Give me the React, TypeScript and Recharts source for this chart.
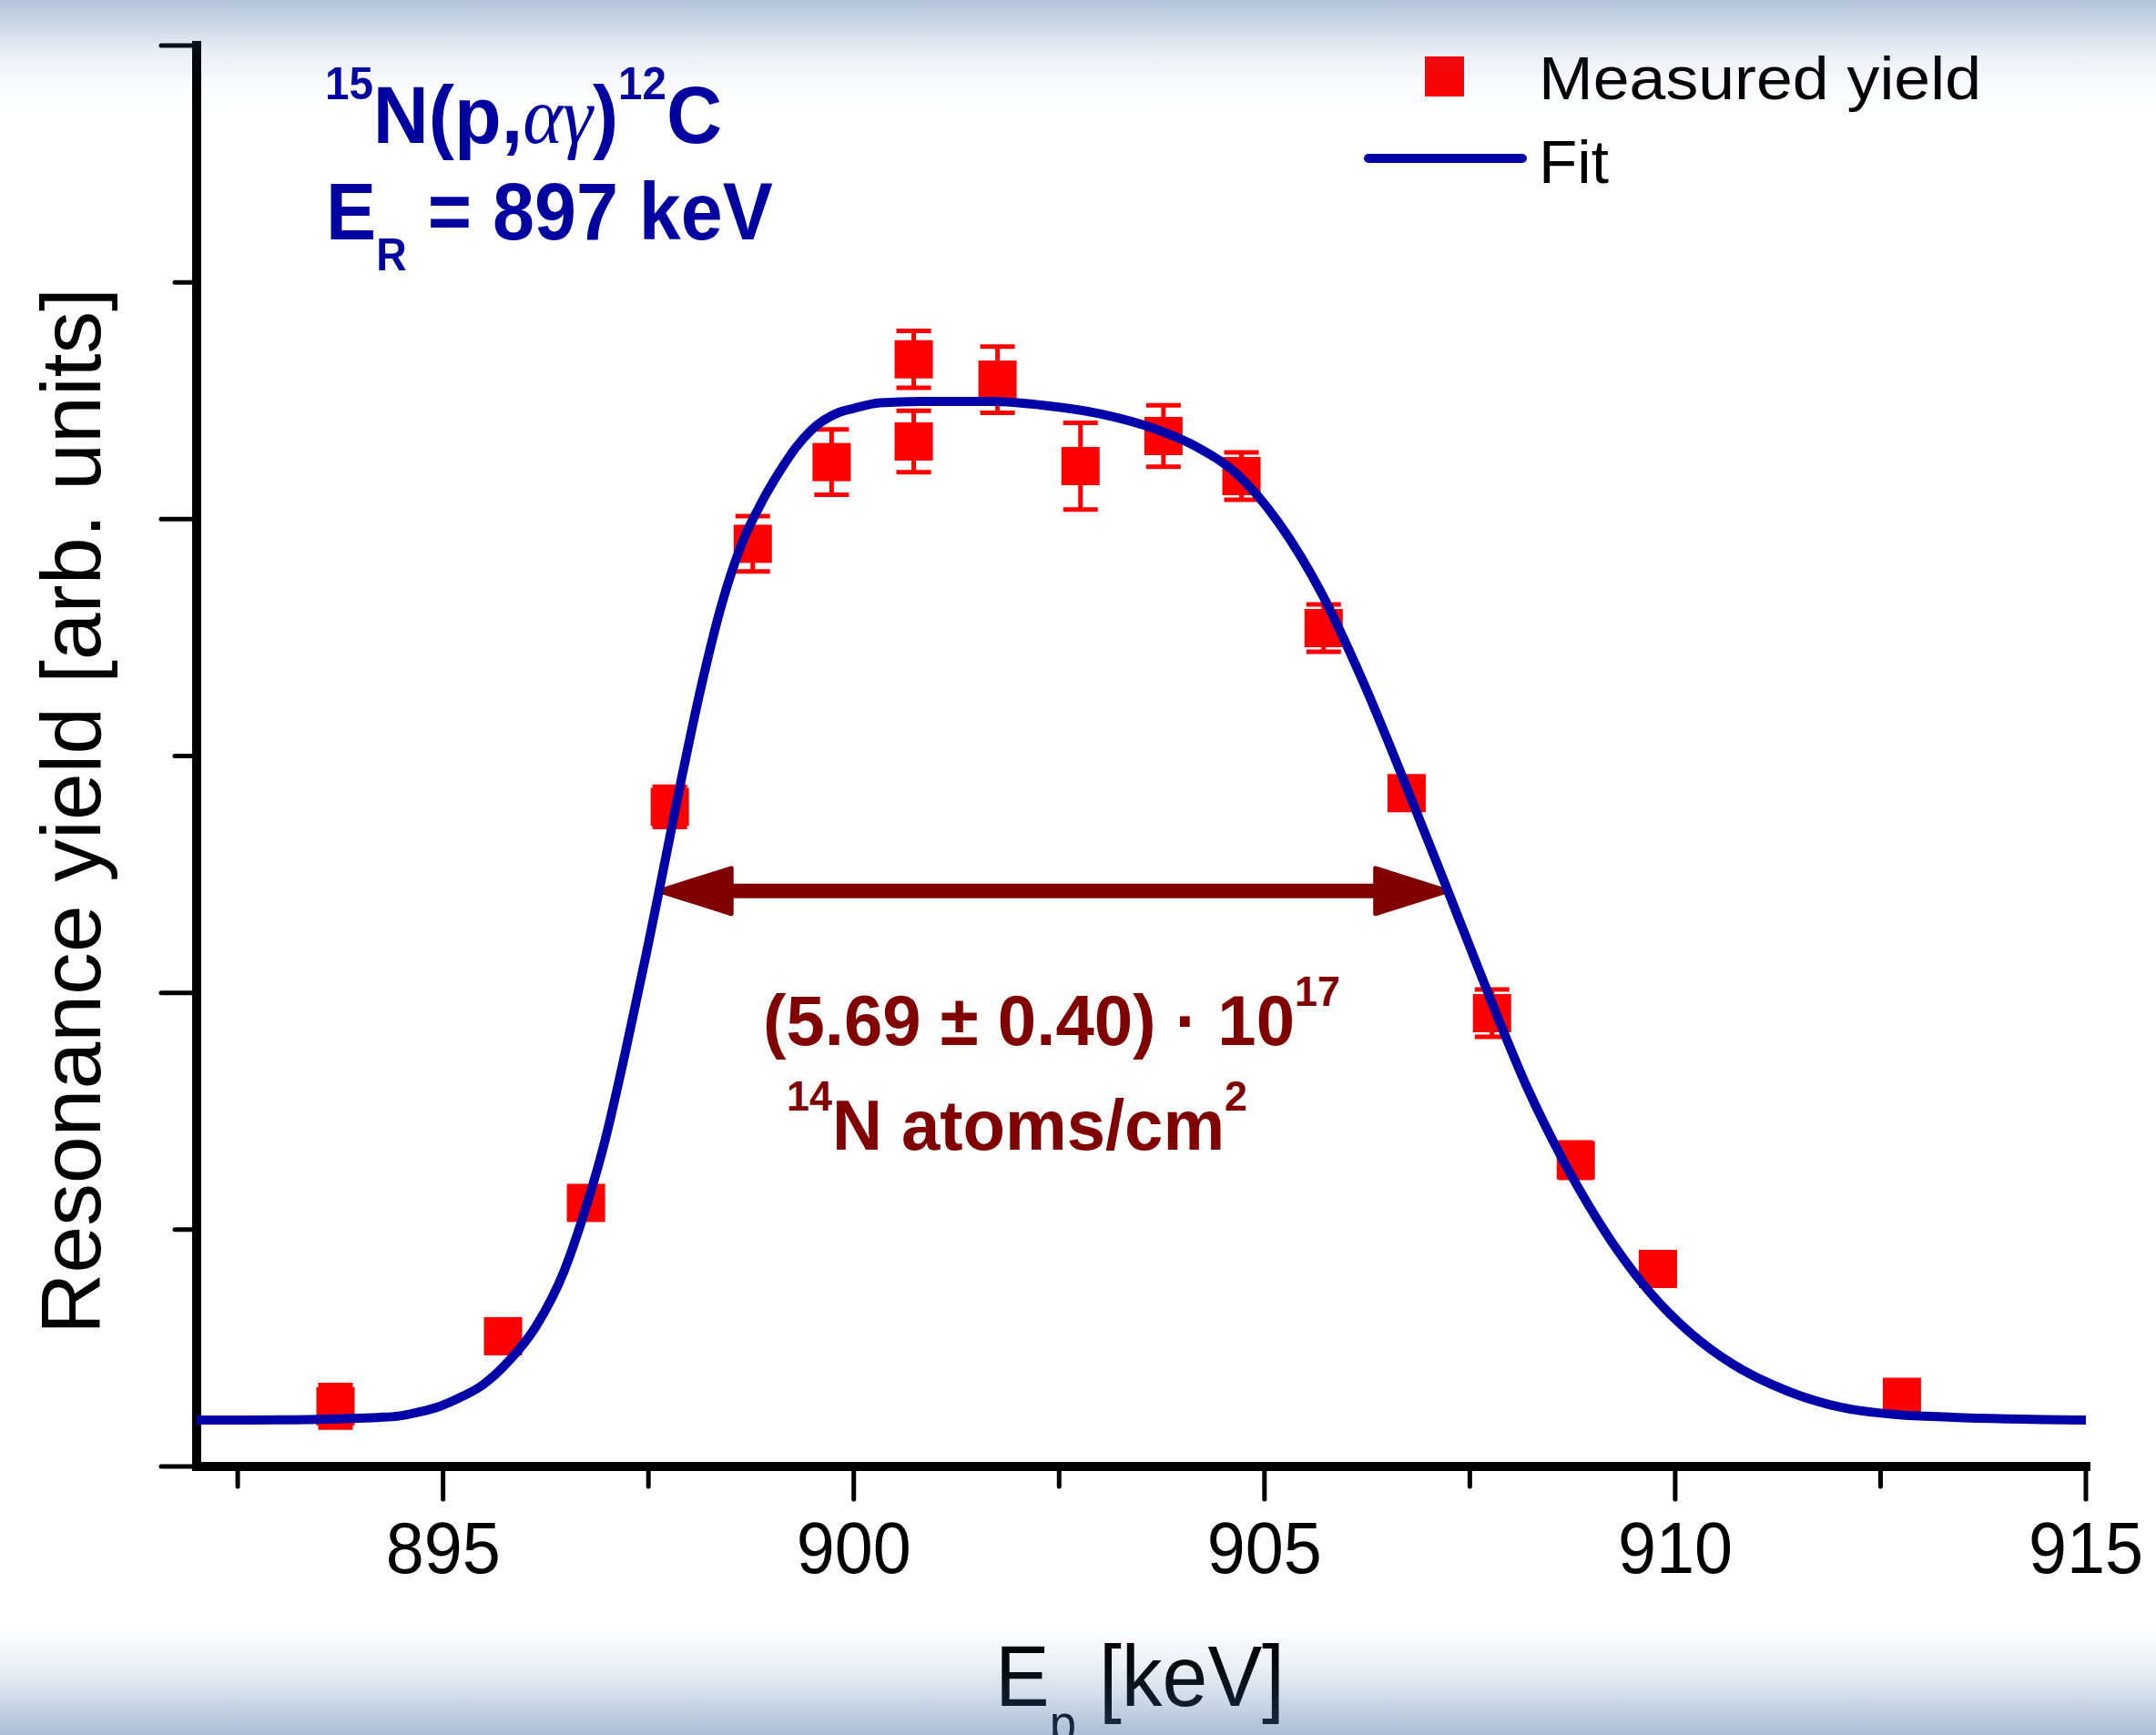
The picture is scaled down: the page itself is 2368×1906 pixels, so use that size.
import React from 'react';
import { ComposedChart, Line, Scatter, XAxis, YAxis, ErrorBar, ReferenceLine } from 'recharts';

// ---- data ----
const measEnergy = [893.69, 895.73, 896.74, 897.76, 898.77, 899.73, 900.73, 900.73, 901.75, 902.76, 903.77, 904.72, 905.72, 906.73, 907.77, 908.79, 909.79, 912.76];
const measYield = [0.254, 0.55, 1.113, 2.785, 3.896, 4.241, 4.675, 4.328, 4.589, 4.224, 4.351, 4.182, 3.54, 2.843, 1.914, 1.293, 0.834, 0.294];
const measError = [0.09, 0.05, 0.05, 0.085, 0.117, 0.138, 0.12, 0.13, 0.14, 0.183, 0.13, 0.1, 0.1, 0.07, 0.1, 0.075, 0.05, 0.05];

const fitEnergy = [892.0, 893.0, 893.79, 894.2, 894.46, 894.71, 894.96, 895.2, 895.47, 895.8, 896.13, 896.47, 896.72, 896.97, 897.22, 897.47, 897.64, 897.89, 898.14, 898.39, 898.64, 898.9, 899.15, 899.3, 899.48, 899.82, 900.0, 900.32, 900.82, 901.66, 902.33, 903.0, 903.67, 904.17, 904.67, 905.17, 905.7, 906.18, 906.68, 907.18, 907.68, 908.19, 908.69, 909.19, 909.69, 910.19, 910.69, 911.37, 912.04, 912.7, 913.37, 915.0];
const fitYield = [0.196, 0.197, 0.202, 0.207, 0.213, 0.23, 0.254, 0.29, 0.341, 0.445, 0.591, 0.822, 1.072, 1.374, 1.751, 2.158, 2.448, 2.883, 3.29, 3.638, 3.899, 4.085, 4.23, 4.305, 4.375, 4.451, 4.468, 4.491, 4.497, 4.497, 4.48, 4.445, 4.381, 4.306, 4.189, 3.986, 3.684, 3.33, 2.912, 2.477, 2.036, 1.606, 1.258, 0.968, 0.736, 0.562, 0.434, 0.318, 0.248, 0.219, 0.208, 0.196];

const xTickValues = [892.5, 895, 897.5, 900, 902.5, 905, 907.5, 910, 912.5, 915];
const yTickValues = [0, 1, 2, 3, 4, 5, 6];
const xDomain = [892, 915];
const yDomain = [0, 6];

const arrowEnergy = [897.6, 907.26];
const arrowYield = 2.43;

const legendLabels = ['Measured yield', 'Fit'];

const measData = measEnergy.map((x, i) => ({ x, y: measYield[i], err: measError[i] }));
const fitData = fitEnergy.map((x, i) => ({ x, y: fitYield[i] }));

const W = 2368;
const H = 1906;
const FONT = '"Liberation Sans", Arial, Helvetica, sans-serif';
const BLUE = '#0000a0';
const LINEBLUE = '#0000a8';
const DARKRED = '#800000';

const XTick = (props: any) => {
  const { x, y, payload } = props;
  const v = payload.value;
  const major = Math.abs(v % 5) < 1e-9;
  return (
    <g>
      <line x1={x} x2={x} y1={y} y2={y + (major ? 36 : 22)} stroke="#000" strokeWidth={5} strokeLinecap="round" />
      {major && (
        <text x={x} y={y + 117} textAnchor="middle" fontFamily={FONT} fontSize={80} fill="#000" textLength={126} lengthAdjust="spacingAndGlyphs">
          {v}
        </text>
      )}
    </g>
  );
};

const YTick = (props: any) => {
  const { x, y, payload } = props;
  const v = payload.value;
  const major = v % 2 === 0;
  return <line x1={x} x2={x - (major ? 39 : 24)} y1={y} y2={y} stroke="#000" strokeWidth={5} strokeLinecap="round" />;
};

const Square = (props: any) => {
  const { cx, cy } = props;
  if (cx == null || cy == null) return null;
  return <rect x={cx - 21} y={cy - 21} width={42} height={42} fill="#ff0000" />;
};

const ArrowShape = (props: any) => {
  const { x1, y1, x2 } = props;
  if (x1 == null) return null;
  const y = y1;
  const hl = 82;
  const hw = 25;
  return (
    <g>
      <line x1={x1 + hl - 4} x2={x2 - hl + 4} y1={y} y2={y} stroke={DARKRED} strokeWidth={16} />
      <polygon points={`${x1 + 3},${y} ${x1 + hl},${y - hw} ${x1 + hl},${y + hw}`} fill={DARKRED} stroke={DARKRED} strokeWidth={5} strokeLinejoin="round" />
      <polygon points={`${x2 - 3},${y} ${x2 - hl},${y - hw} ${x2 - hl},${y + hw}`} fill={DARKRED} stroke={DARKRED} strokeWidth={5} strokeLinejoin="round" />
    </g>
  );
};

export default function App() {
  return (
    <div style={{ position: 'absolute', left: 0, top: 0, width: W, height: H, background: '#fff', overflow: 'hidden' }}>
      <div style={{ position: 'absolute', left: 0, top: 0 }}>
        <ComposedChart width={W} height={H} margin={{ top: 50, right: 77, bottom: 294, left: 215 }}>
          <XAxis
            type="number"
            dataKey="x"
            domain={xDomain}
            ticks={xTickValues}
            interval={0}
            allowDataOverflow
            height={1}
            tickSize={0}
            tickMargin={0}
            tickLine={false}
            axisLine={{ stroke: '#000', strokeWidth: 10, strokeLinecap: 'square' }}
            tick={(p: any) => <XTick {...p} />}
          />
          <YAxis
            type="number"
            domain={yDomain}
            ticks={yTickValues}
            interval={0}
            allowDataOverflow
            width={1}
            tickSize={0}
            tickMargin={0}
            tickLine={false}
            axisLine={{ stroke: '#000', strokeWidth: 10, strokeLinecap: 'square' }}
            tick={(p: any) => <YTick {...p} />}
          />
          <Scatter data={measData} dataKey="y" isAnimationActive={false} shape={(p: any) => <Square {...p} />}>
            <ErrorBar dataKey="err" direction="y" width={19} stroke="#ff0000" strokeWidth={5} isAnimationActive={false} />
          </Scatter>
          <Line
            data={fitData}
            dataKey="y"
            type="monotone"
            stroke={LINEBLUE}
            strokeWidth={10}
            strokeLinejoin="round"
            dot={false}
            activeDot={false}
            isAnimationActive={false}
            zIndex={700}
          />
          <ReferenceLine
            segment={[{ x: arrowEnergy[0], y: arrowYield }, { x: arrowEnergy[1], y: arrowYield }]}
            ifOverflow="visible"
            shape={(p: any) => <ArrowShape {...p} />}
          />
        </ComposedChart>
      </div>
      <svg width={W} height={H} style={{ position: 'absolute', left: 0, top: 0, pointerEvents: 'none' }}>
        {/* legend */}
        <rect x={1565} y={62} width={43} height={44} fill="#ff0000" />
        <line x1={1503} x2={1672} y1={174} y2={174} stroke={LINEBLUE} strokeWidth={10} strokeLinecap="round" />
        <text x={1690} y={109} fontFamily={FONT} fontSize={66} fill="#000" textLength={486} lengthAdjust="spacingAndGlyphs">{legendLabels[0]}</text>
        <text x={1690} y={201} fontFamily={FONT} fontSize={66} fill="#000" textLength={77} lengthAdjust="spacingAndGlyphs">{legendLabels[1]}</text>

        {/* reaction title */}
        <text x={357} y={157} fontFamily={FONT} fontSize={89} fontWeight="bold" fill={BLUE} textLength={436} lengthAdjust="spacingAndGlyphs" style={{ whiteSpace: 'pre' }}>
          <tspan fontSize={50} dy={-48}>15</tspan>
          <tspan dy={48}>N(p,</tspan>
          <tspan fontFamily='"Liberation Serif", "Times New Roman", serif' fontWeight="normal" fontStyle="italic" fontSize={88}>αγ</tspan>
          <tspan>)</tspan>
          <tspan fontSize={50} dy={-48}>12</tspan>
          <tspan dy={48}>C</tspan>
        </text>
        <text x={358} y={263} fontFamily={FONT} fontSize={89} fontWeight="bold" fill={BLUE} textLength={491} lengthAdjust="spacingAndGlyphs" style={{ whiteSpace: 'pre' }}>
          E<tspan fontSize={50} dy={34}>R</tspan>
          <tspan dy={-34}>{' = 897 keV'}</tspan>
        </text>

        {/* thickness annotation */}
        <text x={838} y={1148} fontFamily={FONT} fontSize={78} fontWeight="bold" fill={DARKRED} textLength={634} lengthAdjust="spacingAndGlyphs" style={{ whiteSpace: 'pre' }}>
          {'(5.69 ± 0.40) · 10'}
          <tspan fontSize={46} dy={-43}>17</tspan>
        </text>
        <text x={864} y={1263} fontFamily={FONT} fontSize={78} fontWeight="bold" fill={DARKRED} textLength={506} lengthAdjust="spacingAndGlyphs" style={{ whiteSpace: 'pre' }}>
          <tspan fontSize={46} dy={-43}>14</tspan>
          <tspan dy={43}>{'N atoms/cm'}</tspan>
          <tspan fontSize={46} dy={-43}>2</tspan>
        </text>

        {/* axis titles */}
        <text transform="translate(110, 891) rotate(-90)" textAnchor="middle" fontFamily={FONT} fontSize={93} fill="#000" textLength={1150} lengthAdjust="spacingAndGlyphs">
          Resonance yield [arb. units]
        </text>
        <text x={1093} y={1874} fontFamily={FONT} fontSize={95} fill="#000" textLength={318} lengthAdjust="spacingAndGlyphs" style={{ whiteSpace: 'pre' }}>
          E<tspan fontSize={56} dy={38}>p</tspan>
          <tspan dy={-38}>{' [keV]'}</tspan>
        </text>
      </svg>
      {/* top and bottom tinted bands */}
      <div
        style={{
          position: 'absolute', left: 0, top: 0, width: W, height: 125, pointerEvents: 'none',
          background: 'linear-gradient(to bottom, rgba(63,105,160,0.40) 0px, rgba(63,105,160,0.25) 30px, rgba(63,105,160,0.10) 60px, rgba(63,105,160,0.02) 100px, rgba(63,105,160,0) 125px)',
        }}
      />
      <div
        style={{
          position: 'absolute', left: 0, top: 1785, width: W, height: H - 1785, pointerEvents: 'none',
          background: 'linear-gradient(to bottom, rgba(63,105,160,0) 0px, rgba(63,105,160,0.10) 45px, rgba(63,105,160,0.22) 75px, rgba(63,105,160,0.43) 121px)',
        }}
      />
    </div>
  );
}
